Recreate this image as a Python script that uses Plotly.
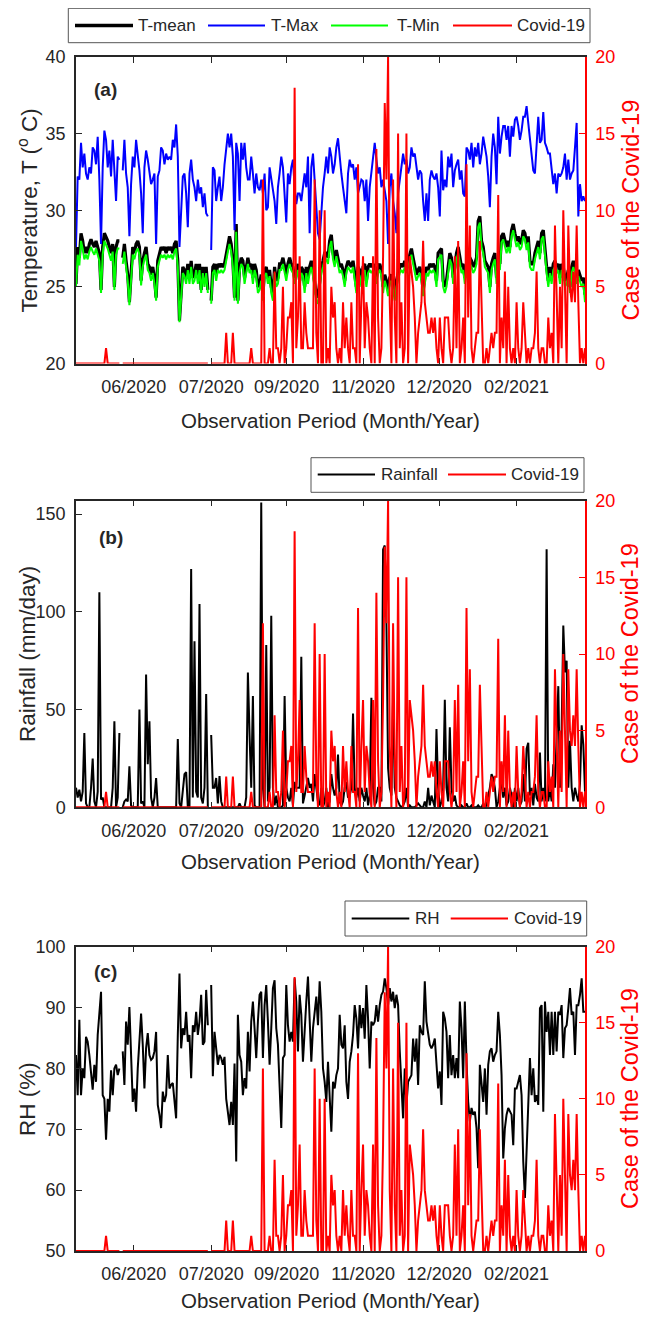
import plotly.graph_objects as go

# ---------------- data ----------------
TICK_POS = [34.6, 81.0, 126.2, 172.0, 217.6, 264.0]
TICK_LABELS = ["06/2020", "07/2020", "09/2020", "11/2020", "12/2020", "02/2021"]

T_MAX = [27.6,32.2,32.0,34.4,32.8,33.7,32.4,32.0,32.8,32.4,
         34.1,33.9,33.0,34.8,32.0,27.8,32.8,35.2,34.6,32.8,
         33.9,32.2,34.6,32.8,30.6,33.5,33.3,None,32.6,34.6,
         32.4,31.5,28.3,31.7,33.5,32.8,34.6,33.7,32.6,31.1,
         28.5,32.8,33.9,33.3,32.4,31.7,32.0,32.4,27.8,32.2,
         32.6,34.1,33.9,33.0,33.7,33.3,33.5,33.3,34.6,34.1,
         35.6,33.5,27.6,29.8,32.2,32.4,31.1,28.9,32.4,33.3,
         32.0,31.5,30.6,32.0,31.1,31.5,30.2,31.1,29.8,29.6,
         None,27.4,32.8,32.6,30.6,31.5,32.2,30.6,31.5,33.0,
         33.9,35.0,34.1,35.0,33.5,28.7,34.4,33.7,30.6,34.4,
         33.3,34.4,32.8,32.0,
         32.0,33.5,32.4,31.1,32.4,31.5,31.3,32.0,31.1,32.4,
         30.0,30.2,32.8,32.0,31.3,30.6,29.1,31.5,32.4,33.5,
         32.8,30.6,29.2,32.4,31.7,32.8,33.3,31.5,30.4,31.1,
         31.1,30.6,31.5,32.4,31.5,33.5,28.5,32.8,33.7,32.0,
         30.9,28.5,28.1,30.0,31.5,32.4,33.5,32.4,34.1,33.5,
         32.4,33.0,34.1,34.7,33.3,32.4,31.5,30.6,29.8,32.4,
         33.3,32.8,33.0,32.0,32.8,31.1,31.5,32.0,31.9,30.6,
         32.0,29.3,31.5,32.4,33.5,34.4,33.3,32.4,32.8,31.5,
         32.0,31.1,30.6,27.8,31.5,32.4,30.6,29.8,28.5,31.1,
         32.0,33.0,33.7,33.0,33.3,32.4,32.8,34.1,33.5,33.7,
         32.8,32.0,
         32.6,32.4,30.6,29.3,31.1,29.3,32.0,32.6,32.2,32.0,
         32.4,31.5,29.6,33.9,31.3,32.0,31.5,33.5,32.8,33.7,
         31.5,32.6,33.0,33.3,32.0,32.6,31.1,30.9,34.1,33.9,
         33.3,34.4,32.8,34.1,33.5,34.4,33.0,33.7,34.8,34.1,
         33.5,32.2,30.2,33.5,35.0,34.1,31.7,36.1,33.7,34.8,
         35.5,35.5,34.6,35.5,33.5,35.5,34.8,35.9,36.1,35.5,
         34.6,35.2,36.1,36.1,36.8,35.7,34.8,33.7,32.6,32.4,
         34.1,36.1,34.4,34.6,36.4,34.4,34.1,33.7,33.7,32.6,
         31.7,32.4,31.1,32.4,32.2,32.4,32.8,33.7,32.0,33.3,
         32.0,32.4,32.6,34.1,35.7,29.6,31.7,30.6,30.9,30.6]

T_MEAN = [25.2,27.6,26.9,28.5,28.0,27.2,27.6,27.2,27.8,28.1,
          27.8,27.6,28.0,27.6,27.2,24.8,27.6,28.5,28.3,28.0,
          27.6,27.2,27.8,25.0,27.6,28.0,28.0,None,26.9,27.8,
          26.7,25.8,24.0,26.3,27.6,27.2,27.8,28.0,27.6,25.4,
          26.7,27.2,27.6,26.5,26.3,25.8,26.3,25.6,24.3,26.7,
          27.2,27.6,27.4,27.6,27.2,27.6,27.4,27.6,27.2,27.8,
          28.0,26.7,22.8,25.0,26.3,26.1,25.6,26.5,25.6,26.7,
          25.6,25.8,26.5,25.6,26.5,24.8,26.3,25.4,26.3,24.8,
          None,24.1,26.3,26.5,25.8,26.5,26.3,26.5,26.3,26.5,
          27.2,27.8,28.3,27.8,26.7,24.3,29.1,24.1,26.3,26.9,
          26.7,25.6,26.3,26.9,
          26.3,26.5,25.6,26.5,26.1,25.0,25.2,25.8,24.5,26.1,
          26.3,25.6,26.1,25.0,24.5,26.3,25.4,25.6,26.5,26.5,
          26.9,26.3,25.8,26.5,26.9,26.5,26.3,25.6,26.1,26.5,
          25.4,26.3,26.1,25.0,26.3,25.6,26.3,26.7,26.1,25.4,
          24.5,24.3,25.4,26.3,26.7,27.2,27.2,26.9,28.0,28.4,
          27.2,26.7,27.4,26.9,26.3,26.5,26.1,25.4,26.3,26.7,
          26.5,26.3,26.7,25.8,25.0,26.3,26.1,25.4,26.3,26.5,
          25.4,26.3,26.5,26.3,26.5,26.3,25.6,26.3,26.5,26.1,
          25.0,25.8,25.4,24.8,25.6,25.8,25.2,24.5,25.4,25.8,
          26.3,26.5,26.3,26.7,26.3,26.7,27.2,27.5,26.9,26.3,
          25.8,26.1,
          26.3,25.8,24.8,25.6,26.3,26.1,26.5,26.3,26.5,26.3,
          25.4,27.2,27.4,27.5,25.4,25.0,25.4,26.3,27.2,26.9,
          25.6,26.3,27.2,27.6,26.9,26.3,26.5,25.6,26.3,27.2,
          26.9,26.7,26.3,26.5,26.9,29.3,29.6,28.0,27.6,26.7,
          26.5,26.3,25.0,26.5,26.9,27.2,25.6,26.7,26.5,28.3,
          28.5,28.0,27.6,28.0,27.6,28.7,29.1,28.5,28.0,28.3,
          27.8,28.0,28.7,28.5,27.8,28.3,26.7,26.5,26.5,27.2,
          27.6,28.0,27.2,28.5,28.7,27.2,26.3,25.4,26.3,25.6,
          26.5,26.7,26.3,26.5,25.6,26.5,26.3,25.4,25.6,26.1,
          25.0,26.3,26.7,26.3,25.6,26.1,25.8,25.4,25.6,24.5]

T_MIN = [25.0,27.1,26.4,28.0,27.5,26.8,27.1,26.8,27.3,27.6,
         27.3,27.1,27.5,27.1,26.7,24.6,27.1,28.0,27.8,27.5,
         27.1,26.7,27.3,24.8,27.1,27.5,27.5,None,26.5,27.3,
         26.3,25.4,23.8,25.9,27.1,26.8,27.3,27.5,27.1,25.1,
         26.3,26.8,27.1,26.1,25.9,25.4,25.9,25.2,24.1,26.3,
         26.8,27.1,26.9,27.1,26.8,27.1,26.9,27.1,26.8,27.3,
         27.5,26.3,22.7,24.7,25.9,25.7,25.2,26.1,25.2,26.3,
         25.2,25.4,26.1,25.2,26.1,24.6,25.9,25.0,25.9,24.6,
         None,23.9,25.9,26.1,25.4,26.1,25.9,26.1,25.9,26.1,
         26.8,27.3,27.8,27.3,26.3,24.1,28.6,23.9,25.9,26.5,
         26.3,25.2,25.9,26.5,
         25.9,26.1,25.2,26.1,25.7,24.6,24.8,25.4,24.1,25.7,
         25.9,25.2,25.7,24.6,24.1,25.9,25.0,25.2,26.1,26.1,
         26.5,25.9,25.4,26.1,26.5,26.1,25.9,25.2,25.7,26.1,
         25.0,25.9,25.7,24.6,25.9,25.2,25.9,26.3,25.7,25.0,
         24.1,23.9,25.0,25.9,26.3,26.8,26.8,26.5,27.6,28.0,
         26.8,26.3,27.0,26.5,25.9,26.1,25.7,25.0,25.9,26.3,
         26.1,25.9,26.3,25.4,24.6,25.9,25.7,25.0,25.9,26.1,
         25.0,25.9,26.1,25.9,26.1,25.9,25.2,25.9,26.1,25.7,
         24.6,25.4,25.0,24.4,25.2,25.4,24.8,24.1,25.0,25.4,
         25.9,26.1,25.9,26.3,25.9,26.3,26.8,27.1,26.5,25.9,
         25.4,25.7,
         25.9,25.4,24.4,25.2,25.9,25.7,26.1,25.9,26.1,25.9,
         25.0,26.8,27.0,27.1,25.0,24.6,25.0,25.9,26.8,26.5,
         25.2,25.9,26.8,27.2,26.5,25.9,26.1,25.2,25.9,26.8,
         26.5,26.3,25.9,26.1,26.5,28.9,29.2,27.6,27.2,26.3,
         26.1,25.9,24.6,26.1,26.5,26.8,25.2,26.3,26.1,27.9,
         28.1,27.6,27.2,27.6,27.2,28.3,28.7,28.1,27.6,27.9,
         27.4,27.6,28.3,28.1,27.4,27.9,26.3,26.1,26.1,26.8,
         27.2,27.6,26.8,28.1,28.3,26.8,25.9,25.0,25.9,25.2,
         26.1,26.3,25.9,26.1,25.2,26.1,25.9,25.0,25.2,25.7,
         24.6,25.9,26.3,25.9,25.2,25.7,25.4,25.0,25.2,24.0]

COVID = [0,0,0,0,0,0,0,0,0,0,
         0,0,0,0,0,0,0,0,1,0,
         0,0,0,0,0,0,0,None,0,0,
         0,0,0,0,0,0,0,0,0,0,
         0,0,0,0,0,0,0,0,0,0,
         0,0,0,0,0,0,0,0,0,0,
         0,0,0,0,0,0,0,0,0,0,
         0,0,0,0,0,0,0,0,0,0,
         None,0,0,0,0,0,0,0,0,0,
         2,0,0,0,2,0,0,0,0,0,
         0,0,0,0,
         0,1,0,0,0,0,0,0,12,0,
         0,0,1,0,0,6,1,1,0,1,
         5,0,1,3,3,4,0,18,1,3,
         7,1,1,4,2,1,1,1,1,12,
         2,0,10,0,0,10,0,1,0,5,
         3,4,1,0,1,0,4,1,3,1,
         0,4,1,1,0,13,0,4,7,1,
         4,3,1,0,7,0,14,3,0,1,
         7,17,12,20,4,0,12,3,0,15,
         1,4,0,1,15,0,7,6,5,3,
         0,2,
         3,4,8,4,3,2,2,3,2,3,
         1,0,3,1,0,3,3,3,1,0,
         1,7,1,8,0,1,3,0,13,3,
         9,1,0,1,2,2,8,4,0,0,
         1,0,1,2,1,2,2,11,0,3,
         1,6,0,5,1,0,1,0,4,1,
         0,1,4,2,0,1,0,1,1,2,
         6,1,0,1,1,0,0,3,1,2,
         0,9,4,0,5,1,10,4,0,9,
         5,4,6,4,9,4,0,1,0,1]

RAIN = [10,5,9,3,8,38,2,0,0,10,
        25,3,0,8,110,4,5,0,0,0,
        0,0,10,44,0,5,38,None,0,3,
        4,3,21,1,0,0,0,0,50,2,
        3,0,68,22,44,5,0,5,15,0,
        0,0,0,0,0,0,0,0,0,0,
        0,35,2,0,10,17,18,0,0,122,
        5,85,8,5,104,5,2,10,58,0,
        None,37,10,10,15,2,16,3,0,0,
        0,0,0,0,0,0,0,0,2,0,
        0,0,5,69,
        37,10,57,1,0,0,0,156,10,0,
        83,3,10,98,10,1,6,0,0,0,
        1,57,10,5,3,10,1,13,10,10,
        10,77,2,6,10,15,10,12,3,17,
        10,3,1,10,0,3,10,0,3,17,
        10,6,10,27,3,1,3,10,13,5,
        6,10,48,10,5,10,3,10,6,3,
        10,1,6,56,10,1,3,10,10,3,
        132,134,95,20,10,6,56,10,5,3,
        1,0,1,3,10,0,1,0,0,0,
        1,2,
        1,0,0,3,0,10,1,6,3,0,
        40,10,0,3,10,55,10,3,41,10,
        3,6,1,0,0,1,0,0,2,0,
        0,1,0,0,0,1,0,0,2,0,
        1,6,10,17,15,10,0,3,10,12,
        5,10,1,3,10,6,0,10,3,10,
        1,3,17,3,30,33,6,10,1,12,
        5,3,28,3,10,3,132,3,10,3,
        22,10,35,62,10,40,93,69,75,10,
        34,10,3,10,6,3,12,42,32,8]

RH = [82.2,75.6,88.0,75.6,80.0,78.4,85.2,84.4,82.2,78.9,
      76.5,80.6,77.8,85.5,89.9,92.6,75.6,75.0,68.3,75.0,
      72.9,79.7,75.6,80.0,80.6,78.9,80.0,None,82.8,77.3,
      87.7,83.9,90.1,82.8,74.5,76.7,72.9,80.0,85.5,89.0,
      83.9,76.7,83.3,85.8,82.2,81.4,81.7,82.8,86.0,74.0,
      72.4,70.2,76.2,74.5,75.6,82.2,76.7,77.3,77.6,74.5,
      71.8,85.5,95.6,83.3,86.6,85.5,89.3,84.4,85.5,78.4,
      87.1,86.0,89.3,85.5,87.7,92.1,83.9,84.4,92.9,87.1,
      None,93.7,78.7,86.0,82.8,80.6,82.2,81.7,80.6,81.9,
      75.0,72.9,70.7,74.5,70.7,80.8,64.7,88.8,82.2,81.1,
      75.6,78.4,76.7,86.0,
      79.5,87.7,91.0,86.6,81.7,87.7,92.1,92.6,81.7,90.4,
      93.7,87.7,80.6,86.6,93.2,94.5,86.6,83.9,77.8,70.2,
      81.7,82.2,93.7,87.1,84.4,86.0,84.4,94.8,91.0,82.8,
      92.1,88.8,81.1,86.6,91.0,95.1,86.6,81.1,86.6,88.8,
      91.8,87.1,94.3,89.3,80.0,77.8,74.5,81.1,75.6,69.6,
      77.8,76.7,78.9,80.0,88.8,83.9,83.3,87.1,77.8,75.0,
      81.1,82.8,85.5,90.4,88.2,83.3,90.4,86.6,89.9,84.9,
      93.7,88.2,80.0,87.7,87.1,87.7,90.4,87.7,90.4,92.1,
      92.6,94.8,93.2,90.4,93.2,91.0,92.6,89.9,92.1,90.4,
      82.8,76.7,71.8,80.0,74.0,77.8,78.4,78.9,84.9,81.1,
      84.9,77.3,
      87.1,86.0,85.5,94.3,87.7,86.0,83.9,83.3,83.9,84.9,
      80.0,76.7,79.5,74.0,89.3,88.2,86.0,78.4,85.5,78.9,
      82.2,78.4,81.7,78.4,91.0,86.6,78.4,91.0,81.1,74.5,
      71.3,73.5,72.4,72.9,70.2,63.6,80.6,77.8,74.5,80.0,
      72.4,80.6,82.8,83.3,81.1,82.2,82.8,89.3,85.5,78.9,
      65.2,70.2,72.4,73.5,72.9,72.4,67.4,76.7,76.7,77.8,
      78.9,75.6,64.7,58.7,67.4,74.5,81.7,75.6,80.0,74.5,
      75.6,74.0,89.9,90.4,72.9,91.0,86.0,89.3,82.2,89.3,
      82.2,89.3,82.8,89.3,88.8,90.4,81.7,86.6,87.1,89.9,
      93.2,88.8,89.3,82.2,90.4,90.4,92.1,94.8,89.3,89.3]

DAY = list(range(len(T_MEAN)))

# ---------------- layout helpers (page pixel -> paper) ----------------
OFF = 8                      # default body margin of the html page
FW, FH = 643, 1305           # figure size so that it fits the 651x1321 window
ML, MR, MT, MB = 68, 66, 49, 62
PW = FW - ML - MR            # 509
PH = FH - MT - MB            # 1194


def px(x):
    return (x - OFF - ML) / PW


def py(y):
    return (FH - MB - (y - OFF)) / PH


FONT = "Liberation Sans, Arial, Helvetica, sans-serif"
INK = "#262626"
RED = "#ff0000"
TICK_FS = 18

fig = go.Figure()

# panel (a)
fig.add_trace(go.Scatter(x=DAY, y=T_MEAN, mode="lines", line=dict(color="black", width=3.2),
                         xaxis="x", yaxis="y", showlegend=False))
fig.add_trace(go.Scatter(x=DAY, y=T_MAX, mode="lines", line=dict(color="#0000ff", width=2),
                         xaxis="x", yaxis="y", showlegend=False))
fig.add_trace(go.Scatter(x=DAY, y=T_MIN, mode="lines", line=dict(color="#00ff00", width=2),
                         xaxis="x", yaxis="y", showlegend=False))
fig.add_trace(go.Scatter(x=DAY, y=COVID, mode="lines", line=dict(color=RED, width=2),
                         xaxis="x", yaxis="y2", showlegend=False))
# panel (b)
fig.add_trace(go.Scatter(x=DAY, y=RAIN, mode="lines", line=dict(color="black", width=2),
                         xaxis="x2", yaxis="y3", showlegend=False))
fig.add_trace(go.Scatter(x=DAY, y=COVID, mode="lines", line=dict(color=RED, width=2),
                         xaxis="x2", yaxis="y4", showlegend=False))
# panel (c)
fig.add_trace(go.Scatter(x=DAY, y=RH, mode="lines", line=dict(color="black", width=2),
                         xaxis="x3", yaxis="y5", showlegend=False))
fig.add_trace(go.Scatter(x=DAY, y=COVID, mode="lines", line=dict(color=RED, width=2),
                         xaxis="x3", yaxis="y6", showlegend=False))

DOM_A = [py(363.5), py(57)]
DOM_B = [py(807.3), py(500.7)]
DOM_C = [py(1251), py(946.7)]


def xax(anchor):
    return dict(domain=[0, 1], anchor=anchor, range=[0, len(DAY) - 1],
                tickmode="array", tickvals=TICK_POS, ticktext=TICK_LABELS, tickangle=0,
                ticks="inside", ticklen=6, tickwidth=1, tickcolor=INK,
                showline=True, linecolor=INK, linewidth=1.5, mirror="ticks",
                showgrid=False, zeroline=False, layer="below traces",
                ticklabelstandoff=6,
                tickfont=dict(family=FONT, size=TICK_FS, color=INK))


def yleft(dom, anchor, rng, vals):
    return dict(domain=dom, anchor=anchor, range=rng, tickmode="array", tickvals=vals,
                ticks="inside", ticklen=6, tickwidth=1, tickcolor=INK,
                showline=True, linecolor=INK, linewidth=1.5, mirror=False,
                showgrid=False, zeroline=False, ticklabelstandoff=5,
                tickfont=dict(family=FONT, size=TICK_FS, color=INK))


def yright(over, anchor):
    return dict(overlaying=over, anchor=anchor, side="right", range=[0, 20],
                tickmode="array", tickvals=[0, 5, 10, 15, 20],
                ticks="inside", ticklen=6, tickwidth=1, tickcolor=RED,
                showline=True, linecolor=RED, linewidth=1.5,
                showgrid=False, zeroline=False, ticklabelstandoff=5,
                tickfont=dict(family=FONT, size=TICK_FS, color=RED))


fig.update_layout(
    width=FW, height=FH, autosize=False,
    margin=dict(l=ML, r=MR, t=MT, b=MB, pad=0),
    paper_bgcolor="white", plot_bgcolor="white",
    showlegend=False,
    xaxis=xax("y"), xaxis2=xax("y3"), xaxis3=xax("y5"),
    yaxis=yleft(DOM_A, "x", [20, 40], [20, 25, 30, 35, 40]),
    yaxis2=yright("y", "x"),
    yaxis3=yleft(DOM_B, "x2", [0, 156.9], [0, 50, 100, 150]),
    yaxis4=yright("y3", "x2"),
    yaxis5=yleft(DOM_C, "x3", [50, 100], [50, 60, 70, 80, 90, 100]),
    yaxis6=yright("y5", "x3"),
)

ann = []
shapes = []

# axis titles
XTITLE = "Observation Period (Month/Year)"
for yc in (421, 862, 1300):
    ann.append(dict(text=XTITLE, x=px(330.5), y=py(yc), xref="paper", yref="paper",
                    showarrow=False, xanchor="center", yanchor="middle",
                    font=dict(family=FONT, size=20.5, color=INK)))

YTITLES = ["Temperature, T (<sup>o</sup> C)", "Rainfall (mm/day)", "RH (%)"]
YCENTERS = [210.5, 654, 1099]
for t, yc in zip(YTITLES, YCENTERS):
    ann.append(dict(text=t, x=px(27), y=py(yc), xref="paper", yref="paper",
                    showarrow=False, textangle=-90, xanchor="center", yanchor="middle",
                    font=dict(family=FONT, size=22.5, color=INK)))
    ann.append(dict(text="Case of the Covid-19", x=px(630), y=py(yc), xref="paper", yref="paper",
                    showarrow=False, textangle=-90, xanchor="center", yanchor="middle",
                    font=dict(family=FONT, size=23.5, color=RED)))

# panel tags
for tag, (tx, ty) in zip(["(a)", "(b)", "(c)"], [(105, 90), (111, 537), (105, 972)]):
    ann.append(dict(text="<b>%s</b>" % tag, x=px(tx), y=py(ty), xref="paper", yref="paper",
                    showarrow=False, xanchor="center", yanchor="middle",
                    font=dict(family=FONT, size=19, color=INK)))


# manual legends (MATLAB style boxes)
def box(x0, x1, y0, y1):
    shapes.append(dict(type="rect", xref="paper", yref="paper",
                       x0=px(x0), x1=px(x1), y0=py(y1), y1=py(y0),
                       line=dict(color="#555555", width=1), fillcolor="white", layer="above"))


def item(x0, x1, y, color, width, label, tx):
    shapes.append(dict(type="line", xref="paper", yref="paper",
                       x0=px(x0), x1=px(x1), y0=py(y), y1=py(y),
                       line=dict(color=color, width=width), layer="above"))
    ann.append(dict(text=label, x=px(tx), y=py(y), xref="paper", yref="paper",
                    showarrow=False, xanchor="left", yanchor="middle",
                    font=dict(family=FONT, size=17, color=INK)))


box(68.3, 590, 8.3, 42.7)
item(75, 133, 25.5, "black", 3.5, "T-mean", 136)
item(208, 265, 25.5, "#0000ff", 2, "T-Max", 269)
item(331, 388, 25.5, "#00ff00", 2, "T-Min", 395)
item(453, 512, 25.5, RED, 2, "Covid-19", 515)

box(311, 584, 457.7, 492.3)
item(317.7, 375, 474.5, "black", 2, "Rainfall", 379)
item(448, 506, 474.5, RED, 2, "Covid-19", 509)

box(345, 586.7, 901, 936)
item(351.7, 409.3, 918.5, "black", 2, "RH", 413)
item(450.7, 508, 918.5, RED, 2, "Covid-19", 512)

fig.update_layout(annotations=ann, shapes=shapes)

fig.write_html("out.html")
